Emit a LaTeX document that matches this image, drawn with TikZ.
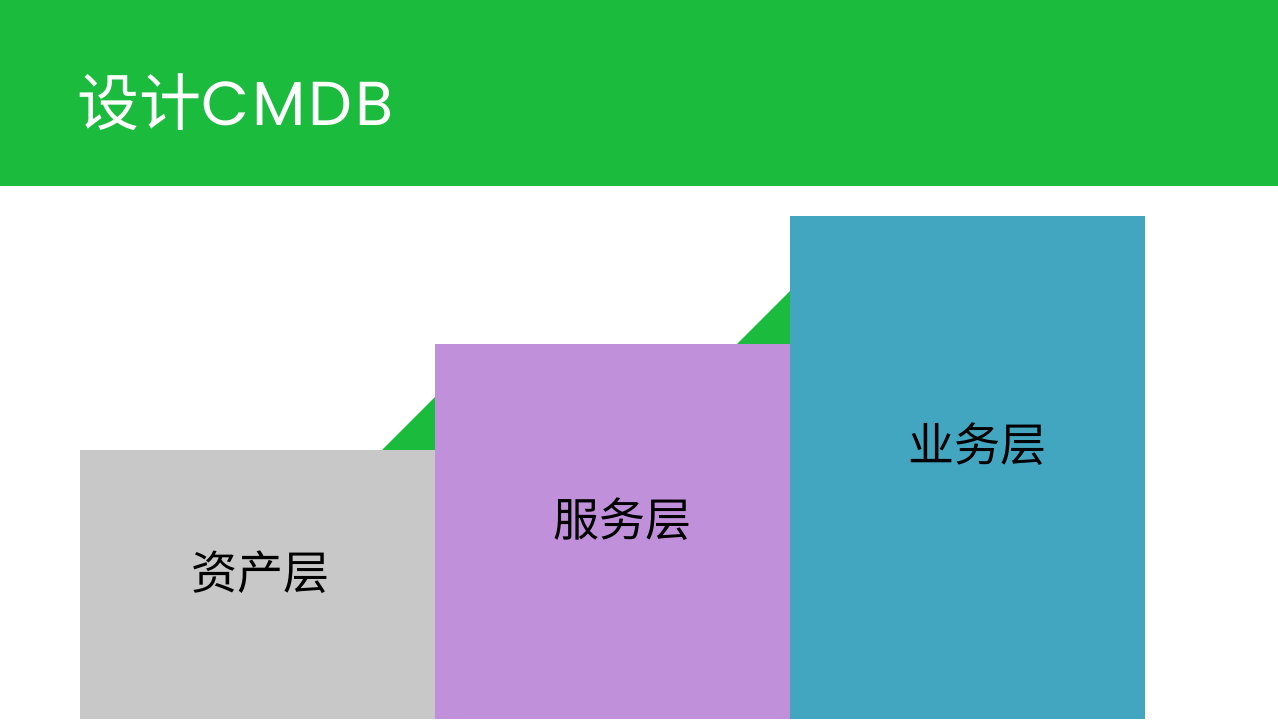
\documentclass[tikz,border=0pt]{standalone}
\usepackage{fontspec}
\setmainfont{Poppins}
\newfontfamily\cjk{Noto Sans CJK SC}
\newfontfamily\titlelatin[LetterSpace=5]{Poppins}
\usetikzlibrary{positioning}
\definecolor{bandgreen}{HTML}{1BBC3E}
\definecolor{assetgray}{HTML}{C8C8C8}
\definecolor{servicepurple}{HTML}{C090DA}
\definecolor{businessblue}{HTML}{42A6C1}
\tikzstyle{layerlabel} = [text=black, font=\cjk\fontsize{34.5}{40}\selectfont, inner sep=0pt]
\tikzstyle{title} = [text=white, font=\fontsize{46.5}{54}\selectfont, anchor=base west, inner sep=0pt]

\begin{document}
\begin{tikzpicture}[x=0.75pt, y=-0.75pt]
  % page and header band
  \useasboundingbox (0,0) rectangle (1278,719);
  \fill[white] (0,0) rectangle (1278,719);
  \fill[bandgreen] (0,0) rectangle (1278,186);
  \node (title) [title] at (77,125) {{\cjk 设计}{\titlelatin CMDB}};

  % steps
  \fill[bandgreen] (382,450) -- (435,397) -- (435,450) -- cycle;
  \fill[bandgreen] (737,344) -- (790,291) -- (790,344) -- cycle;
  \fill[assetgray] (80,450) rectangle (435,719);
  \fill[servicepurple] (435,344) rectangle (790,719);
  \fill[businessblue] (790,216) rectangle (1145,719);

  % labels
  \node (asset) [layerlabel] at (260,572) {资产层};
  \node (service) [layerlabel] at (622,519) {服务层};
  \node (business) [layerlabel] at (977,444) {业务层};
\end{tikzpicture}
\end{document}
